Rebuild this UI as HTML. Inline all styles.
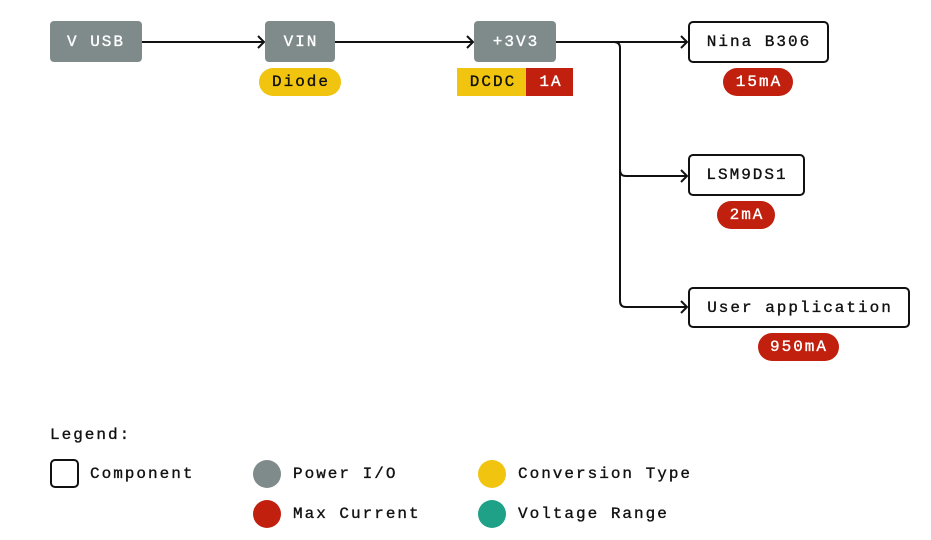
<!DOCTYPE html>
<html><head><meta charset="utf-8"><style>
html,body{margin:0;padding:0;background:#fff;}
svg{display:block}
text{font-family:"Liberation Mono","DejaVu Sans Mono",monospace;font-size:16px;letter-spacing:2px;dominant-baseline:central;stroke-width:0.35px;}
</style></head><body>
<svg width="931" height="540" viewBox="0 0 931 540" xmlns="http://www.w3.org/2000/svg">
<g fill="none" stroke="#111" stroke-width="2">
<path d="M142 42 H264"/><path d="M258 36 L264 42 L258 48"/>
<path d="M335 42 H473"/><path d="M467 36 L473 42 L467 48"/>
<path d="M555 42 H687"/><path d="M681 36 L687 42 L681 48"/>
<path d="M614 42 Q620 42 620 48 V301 Q620 307 626 307 H687"/><path d="M681 301 L687 307 L681 313"/>
<path d="M620 170 Q620 176 626 176 H687"/><path d="M681 170 L687 176 L681 182"/>
</g>
<rect x="50" y="21" width="92" height="41" rx="4" fill="#7f8b8b"/>
<text x="96" y="42" fill="#fff" stroke="#fff" text-anchor="middle">V USB</text>
<rect x="265" y="21" width="70" height="41" rx="4" fill="#7f8b8b"/>
<text x="301" y="42" fill="#fff" stroke="#fff" text-anchor="middle">VIN</text>
<rect x="474" y="21" width="82" height="41" rx="4" fill="#7f8b8b"/>
<text x="516" y="42" fill="#fff" stroke="#fff" text-anchor="middle">+3V3</text>
<rect x="259" y="68" width="82" height="28" rx="14" fill="#f1c40f"/>
<text x="301" y="82" fill="#111" stroke="#111" text-anchor="middle">Diode</text>
<rect x="457" y="68" width="70" height="28" fill="#f1c40f"/>
<text x="493" y="82" fill="#111" stroke="#111" text-anchor="middle">DCDC</text>
<rect x="526" y="68" width="47" height="28" fill="#c1200e"/>
<text x="551" y="82" fill="#fff" stroke="#fff" text-anchor="middle">1A</text>
<rect x="689" y="22" width="139" height="40" rx="4" fill="#fff" stroke="#111" stroke-width="2"/>
<text x="759" y="42" fill="#111" stroke="#111" text-anchor="middle">Nina B306</text>
<rect x="723" y="68" width="70" height="28" rx="14" fill="#c1200e"/>
<text x="759" y="82" fill="#fff" stroke="#fff" text-anchor="middle">15mA</text>
<rect x="689" y="155" width="115" height="40" rx="4" fill="#fff" stroke="#111" stroke-width="2"/>
<text x="747" y="175" fill="#111" stroke="#111" text-anchor="middle">LSM9DS1</text>
<rect x="717" y="201" width="58" height="28" rx="14" fill="#c1200e"/>
<text x="747" y="215" fill="#fff" stroke="#fff" text-anchor="middle">2mA</text>
<rect x="689" y="288" width="220" height="39" rx="4" fill="#fff" stroke="#111" stroke-width="2"/>
<text x="800" y="308" fill="#111" stroke="#111" text-anchor="middle">User application</text>
<rect x="758" y="333" width="81" height="28" rx="14" fill="#c1200e"/>
<text x="799" y="347" fill="#fff" stroke="#fff" text-anchor="middle">950mA</text>
<text x="50" y="435" fill="#111" stroke="#111">Legend:</text>
<rect x="51" y="460" width="27" height="27" rx="4" fill="none" stroke="#111" stroke-width="2"/>
<text x="90" y="474" fill="#111" stroke="#111">Component</text>
<circle cx="267" cy="474" r="14" fill="#7f8b8b"/>
<text x="293" y="474" fill="#111" stroke="#111">Power I/O</text>
<circle cx="492" cy="474" r="14" fill="#f1c40f"/>
<text x="518" y="474" fill="#111" stroke="#111">Conversion Type</text>
<circle cx="267" cy="514" r="14" fill="#c1200e"/>
<text x="293" y="514" fill="#111" stroke="#111">Max Current</text>
<circle cx="492" cy="514" r="14" fill="#1fa187"/>
<text x="518" y="514" fill="#111" stroke="#111">Voltage Range</text>
</svg>
</body></html>
